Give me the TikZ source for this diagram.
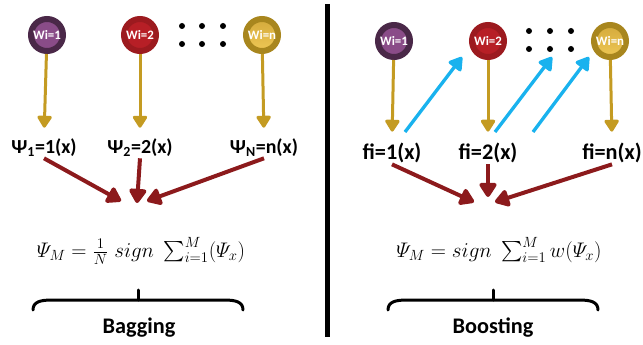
\RequirePackage{fix-cm}
\documentclass[tikz,border=0pt]{standalone}
\usepackage{amsmath}
\usepackage{fontspec}
\setmainfont{Carlito}
\usetikzlibrary{arrows.meta}
\definecolor{plumout}{HTML}{4A2848}
\definecolor{plumin}{HTML}{8A4C88}
\definecolor{rubyout}{HTML}{9C1A1F}
\definecolor{rubyin}{HTML}{B71F26}
\definecolor{goldout}{HTML}{A8861E}
\definecolor{goldtop}{HTML}{D4AA3C}
\definecolor{goldbot}{HTML}{EEC755}
\definecolor{goldline}{HTML}{C49B22}
\definecolor{wine}{HTML}{8C1A1C}
\definecolor{skyar}{HTML}{19B2EE}

\begin{document}
\begin{tikzpicture}[
  x=0.03cm, y=-0.03cm,
  ball/.style={circle, minimum size=0.96cm, inner sep=0pt, line width=0.18cm,
               text=white, font=\fontsize{11}{12}\selectfont\bfseries},
  dot/.style={circle, fill=black, minimum size=0.18cm, inner sep=0pt},
  lbl/.style={font=\fontsize{17}{20}\selectfont\bfseries, inner sep=1pt},
  ttl/.style={font=\fontsize{19}{22}\selectfont\bfseries, inner sep=1pt},
  fml/.style={font=\fontsize{18}{22}\selectfont, inner sep=1pt},
  goldar/.style={-{Triangle[length=0.4cm,width=0.48cm,round]}, draw=goldline,
                 line width=0.09cm, shorten >=0.3cm},
  redar/.style={-{Triangle[length=0.48cm,width=0.58cm,round]}, draw=wine,
                line width=0.12cm},
  bluear/.style={-{Triangle[length=0.44cm,width=0.52cm,round]}, draw=skyar,
                 line width=0.1cm},
  brc/.style={draw=black, line width=0.09cm, line cap=round}
]
\useasboundingbox (0,0) rectangle (643,345);

% ===== divider =====
\draw[line width=0.15cm] (327,4) -- (327,337);

% ===== (i) bagging =====
\node[ball, draw=plumout, fill=plumin] (b1) at (47,35) {Wi=1};
\node[ball, draw=rubyout, fill=rubyin] (b2) at (140,35) {Wi=2};
\node[ball, draw=goldout, top color=goldtop, bottom color=goldbot] (b3) at (262,35) {Wi=n};
\foreach \dx in {182,202,223} {
  \node[dot] at (\dx,26) {};
  \node[dot] at (\dx,44) {};
}
\node[lbl] (p1) at (44,148) {Ψ\textsubscript{1}=1(x)};
\node[lbl] (p2) at (140,148) {Ψ\textsubscript{2}=2(x)};
\node[lbl] (p3) at (264,148) {Ψ\textsubscript{N}=n(x)};
\draw[goldar] (b1) -- (p1.north);
\draw[goldar] (b2) -- (p2.north);
\draw[goldar] (b3) -- (p3.north);
\coordinate (m1) at (121,201);
\coordinate (m2) at (137,203);
\coordinate (m3) at (147,201);
\draw[redar] (p1.south) -- (m1);
\draw[redar] (p2.south) -- (m2);
\draw[redar] (p3.south) -- (m3);
\node[fml] (fb) at (141,251) {$\varPsi_M=\frac{1}{N}\;sign\;\sum_{i=1}^{M}(\varPsi_x)$};
\draw[brc] (33,310) .. controls (33,302) and (40,300) .. (52,300) -- (224,300)
           .. controls (236,300) and (243,302) .. (243,310);
\draw[brc] (138,300) -- (138,290);
\node[ttl] (bag) at (139,328) {Bagging};

% ===== (ii) boosting =====
\node[ball, draw=plumout, fill=plumin] (c1) at (394,41) {Wi=1};
\node[ball, draw=rubyout, fill=rubyin] (c2) at (488,41) {Wi=2};
\node[ball, draw=goldout, top color=goldtop, bottom color=goldbot] (c3) at (610,41) {Wi=n};
\foreach \dx in {529,550,571} {
  \node[dot] at (\dx,31) {};
  \node[dot] at (\dx,49) {};
}
\node[ttl] (f1) at (392,153) {fi=1(x)};
\node[ttl] (f2) at (488,153) {fi=2(x)};
\node[ttl] (f3) at (612,153) {fi=n(x)};
\draw[goldar] (c1) -- (f1.north);
\draw[goldar] (c2) -- (f2.north);
\draw[goldar] (c3) -- (f3.north);
\foreach \sx/\ex [count=\k] in {405/462,495/552,533/589} {
  \coordinate (s\k) at (\sx,132);
  \coordinate (e\k) at (\ex,57);
  \draw[bluear] (s\k) -- (e\k);
}
\coordinate (n1) at (474,202);
\coordinate (n2) at (488,197);
\coordinate (n3) at (495,202);
\draw[redar] (f1.south) -- (n1);
\draw[redar] (f2.south) -- (n2);
\draw[redar] (f3.south) -- (n3);
\node[fml] (fo) at (499,250) {$\varPsi_M=sign\;\sum_{i=1}^{M}w(\varPsi_x)$};
\draw[brc] (388,310) .. controls (388,302) and (395,300) .. (407,300) -- (579,300)
           .. controls (591,300) and (598,302) .. (598,310);
\draw[brc] (493,300) -- (493,290);
\node[ttl] (bst) at (493,328) {Boosting};
\end{tikzpicture}
\end{document}
